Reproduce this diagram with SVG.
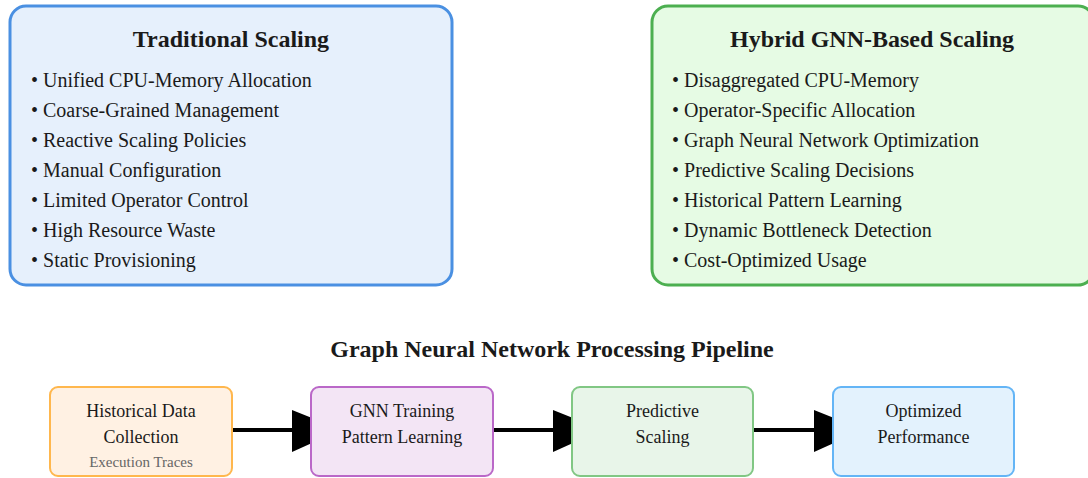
<svg xmlns="http://www.w3.org/2000/svg" width="1088" height="478" viewBox="0 0 1088 478">
<style>
  text { font-family: "Liberation Serif", "Times New Roman", serif; fill: #1a1a1a; }
  .title { font-size: 24px; font-weight: bold; text-anchor: middle; }
  .item { font-size: 20px; }
  .ptitle { font-size: 24px; font-weight: bold; text-anchor: middle; }
  .plabel { font-size: 18px; text-anchor: middle; }
  .psub { font-size: 15px; text-anchor: middle; fill: #666; }
  .conn { stroke: #000; stroke-width: 4; fill: none; }
  .head { fill: #000; }
</style>
<rect x="0" y="0" width="1088" height="478" fill="#ffffff"/>

<g id="traditional">
  <rect x="10" y="6" width="442" height="279" rx="16" ry="16" fill="#e6f0fc" stroke="#4a90e2" stroke-width="3"/>
  <text class="title" x="231" y="47">Traditional Scaling</text>
  <text class="item" x="31" y="87">• Unified CPU-Memory Allocation</text>
  <text class="item" x="31" y="117">• Coarse-Grained Management</text>
  <text class="item" x="31" y="147">• Reactive Scaling Policies</text>
  <text class="item" x="31" y="177">• Manual Configuration</text>
  <text class="item" x="31" y="207">• Limited Operator Control</text>
  <text class="item" x="31" y="237">• High Resource Waste</text>
  <text class="item" x="31" y="267">• Static Provisioning</text>
</g>

<g id="hybrid">
  <rect x="652" y="6" width="442" height="279" rx="16" ry="16" fill="#e6fbe4" stroke="#4caf50" stroke-width="3"/>
  <text class="title" x="872" y="47">Hybrid GNN-Based Scaling</text>
  <text class="item" x="672" y="87">• Disaggregated CPU-Memory</text>
  <text class="item" x="672" y="117">• Operator-Specific Allocation</text>
  <text class="item" x="672" y="147">• Graph Neural Network Optimization</text>
  <text class="item" x="672" y="177">• Predictive Scaling Decisions</text>
  <text class="item" x="672" y="207">• Historical Pattern Learning</text>
  <text class="item" x="672" y="237">• Dynamic Bottleneck Detection</text>
  <text class="item" x="672" y="267">• Cost-Optimized Usage</text>
</g>

<text id="pipeline-title" class="ptitle" x="552" y="357">Graph Neural Network Processing Pipeline</text>

<g id="connectors">
  <line class="conn" x1="233" y1="430" x2="294" y2="430"/>
  <polygon class="head" points="292,410 312,418 312,443 292,452"/>
  <line class="conn" x1="494" y1="430" x2="555" y2="430"/>
  <polygon class="head" points="553,410 573,418 573,443 553,452"/>
  <line class="conn" x1="754" y1="430" x2="816" y2="430"/>
  <polygon class="head" points="814,410 834,418 834,443 814,452"/>
</g>

<g id="historical">
  <rect x="50" y="387" width="182" height="89" rx="8" ry="8" fill="#fff1e3" stroke="#ffb74d" stroke-width="2"/>
  <text class="plabel" x="141" y="417">Historical Data</text>
  <text class="plabel" x="141" y="443">Collection</text>
  <text class="psub" x="141" y="467">Execution Traces</text>
</g>

<g id="gnn-training">
  <rect x="311" y="387" width="182" height="89" rx="8" ry="8" fill="#f3e5f5" stroke="#ba68c8" stroke-width="2"/>
  <text class="plabel" x="402" y="417">GNN Training</text>
  <text class="plabel" x="402" y="443">Pattern Learning</text>
</g>

<g id="predictive">
  <rect x="572" y="387" width="181" height="89" rx="8" ry="8" fill="#e8f5e9" stroke="#81c784" stroke-width="2"/>
  <text class="plabel" x="662.5" y="417">Predictive</text>
  <text class="plabel" x="662.5" y="443">Scaling</text>
</g>

<g id="optimized">
  <rect x="833" y="387" width="181" height="89" rx="8" ry="8" fill="#e3f2fd" stroke="#64b5f6" stroke-width="2"/>
  <text class="plabel" x="923.5" y="417">Optimized</text>
  <text class="plabel" x="923.5" y="443">Performance</text>
</g>
</svg>
